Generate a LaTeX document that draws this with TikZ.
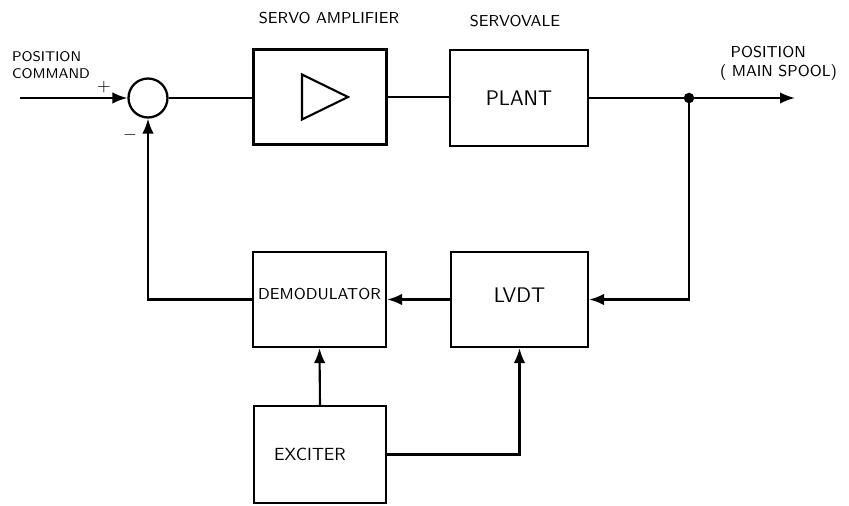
\documentclass[tikz,border=0pt]{standalone}
\usepackage{tikz}
\usetikzlibrary{arrows.meta,positioning,calc}
\tikzset{
	blk/.style={draw=black, line width=1.3pt, fill=white, align=center,
		minimum width=2.66cm, minimum height=1.9cm, inner sep=2pt,
		font=\sffamily},
	sumnode/.style={draw=black, line width=1.3pt, circle, minimum size=0.78cm,
		inner sep=0pt},
	sig/.style={line width=1.2pt, draw=black},
	sarr/.style={-{Latex[length=8.5pt,width=6.5pt]}, line width=1.2pt, draw=black},
	lbl/.style={font=\sffamily\small, align=left, inner sep=1pt},
}
\begin{document}
\begin{tikzpicture}[x=0.02cm,y=0.02cm]
	\useasboundingbox (0,0) rectangle (849,505);
	\coordinate (in) at (20,407);
	\node[sumnode] (sum) at (148,407) {};
	\node[blk] (amp) at (320,408) {};
	\node[blk, minimum width=2.76cm, minimum height=1.92cm] (plant) at (519,407) {\large PLANT};
	\fill (689,407) circle (3pt) coordinate (jn);
	\coordinate (out) at (795,407);
	\node[blk] (demod) at (319.5,205.5) {\raisebox{6pt}{\small DEMODULATOR}};
	\node[blk, minimum width=2.74cm] (lvdt) at (519.5,205.5) {\raisebox{5pt}{\large LVDT}};
	\node[blk, minimum width=2.64cm, minimum height=1.94cm] (exc) at (320,50.5) {EXCITER\hspace{0.4cm}};
	\draw[line width=1.2pt] ([xshift=-0.36cm,yshift=0.45cm]amp.center)
		-- ([xshift=0.56cm]amp.center)
		-- ([xshift=-0.36cm,yshift=-0.45cm]amp.center) -- cycle;
	\node[lbl, font=\sffamily\footnotesize, anchor=west] (cmd) at (10,440) {POSITION\\COMMAND};
	\node[font=\sffamily] (plus) at (104,418) {$+$};
	\node[font=\sffamily] (minus) at (130,370) {$-$};
	\node[lbl] (amplbl) at (329,487) {SERVO AMPLIFIER};
	\node[lbl] (svlbl) at (515,484) {SERVOVALE};
	\node[lbl, anchor=west] (poslbl) at (718,442) {\hspace{6pt}POSITION\\( MAIN SPOOL)};
	\draw[sarr] (in) -- (sum.west);
	\draw[sig] (sum.east) -- (sum.east -| amp.west);
	\draw[sig] (amp.east) -- (amp.east -| plant.west);
	\draw[sig] (plant.east) -- (jn);
	\draw[sarr] (jn) -- (out);
	\draw[sarr] (jn) |- (lvdt.east);
	\draw[sarr] (lvdt.west) -- (demod.east);
	\draw[sarr] (demod.west) -| (sum.south);
	\draw[sarr] (exc.north) -- (demod.south);
	\draw[sarr] (exc.east) -| (lvdt.south);
\end{tikzpicture}
\end{document}
